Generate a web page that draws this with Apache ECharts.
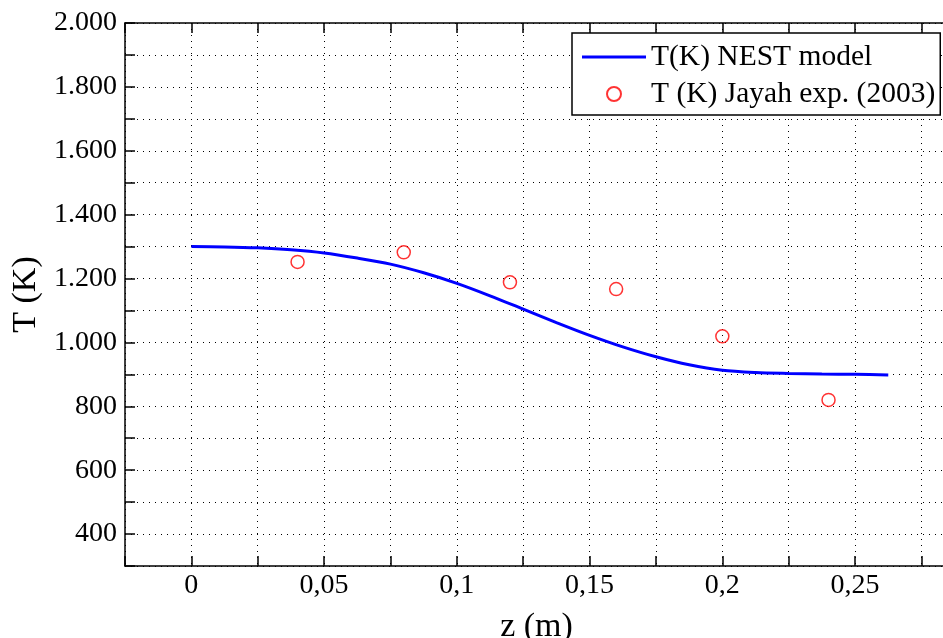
<!DOCTYPE html>
<html>
<head>
<meta charset="utf-8">
<script src="https://cdn.jsdelivr.net/npm/echarts@6/dist/echarts.min.js"></script>
<style>
html,body{margin:0;padding:0;background:#fff;}
#chart{width:943px;height:638px;}
</style>
</head>
<body>
<div id="chart"></div>
<script>
const zModel = [0, 0.0125, 0.025, 0.0375, 0.05, 0.0625, 0.075, 0.0875, 0.1, 0.1125, 0.125, 0.1375, 0.15, 0.1625, 0.175, 0.1875, 0.2, 0.2125, 0.225, 0.2375, 0.25, 0.2625];
const tModel = [1300, 1299, 1296, 1290, 1280, 1264, 1245, 1218, 1185, 1146, 1104, 1062, 1022, 986, 955, 930, 913, 906, 903, 901, 900, 898];
const zExp = [0.04, 0.08, 0.12, 0.16, 0.2, 0.24];
const tExp = [1252, 1282, 1188, 1167, 1019, 820];
const seriesNames = ['T(K) NEST model', 'T (K) Jayah exp. (2003)'];
const xTitle = 'z (m)';
const yTitle = 'T (K)';

const FONT = '"Liberation Serif", "Times New Roman", serif';
const chart = echarts.init(document.getElementById('chart'), null, {renderer: 'canvas'});

function fmtX(v) {
  const k = v / 0.05;
  if (Math.abs(k - Math.round(k)) > 1e-6) return '';
  return String(+v.toFixed(3)).replace('.', ',');
}
function fmtY(v) {
  if (Math.round(v) % 200 !== 0) return '';
  const s = String(Math.round(v));
  return s.length > 3 ? s.slice(0, s.length - 3) + '.' + s.slice(-3) : s;
}

const xMin = -0.025, xMax = 0.285, yMin = 300, yMax = 2000;
const gridLine = {show: true, lineStyle: {color: '#000', width: 1, type: [1, 5]}};
const lineIcon = 'path://M0,5.5 L64,5.5 L64,8.5 L0,8.5 Z M0,0 L0.01,0 L0.01,0.01 Z M64,14 L63.99,14 L63.99,13.99 Z';

chart.setOption({
  animation: false,
  backgroundColor: '#fff',
  grid: {left: 125, right: -5, top: 23, bottom: 72, containLabel: false, outerBoundsMode: 'none'},
  legend: {
    orient: 'vertical',
    left: 572, top: 33,
    padding: [9, 5, 6, 10],
    itemGap: 7,
    itemWidth: 64, itemHeight: 14,
    backgroundColor: '#fff',
    borderColor: '#000', borderWidth: 1.5,
    textStyle: {fontFamily: FONT, fontSize: 29.5, color: '#000'},
    data: [
      {name: seriesNames[0], icon: lineIcon},
      {name: seriesNames[1]}
    ]
  },
  xAxis: [{
    type: 'value', min: xMin, max: xMax, interval: 0.025,
    name: xTitle, nameLocation: 'middle', nameGap: 44,
    nameTextStyle: {fontFamily: FONT, fontSize: 34, color: '#000'},
    axisLine: {onZero: false, lineStyle: {color: '#000', width: 1.5}},
    axisTick: {inside: true, length: 10, lineStyle: {color: '#000', width: 1.5}},
    axisLabel: {formatter: fmtX, fontFamily: FONT, fontSize: 28, color: '#000', margin: 6, showMaxLabel: false},
    splitLine: gridLine
  }, {
    type: 'value', min: xMin, max: xMax, interval: 0.025, position: 'top',
    axisLine: {onZero: false, lineStyle: {color: '#000', width: 1.5}},
    axisTick: {inside: true, length: 10, lineStyle: {color: '#000', width: 1.5}},
    axisLabel: {show: false},
    splitLine: {show: false}
  }],
  yAxis: [{
    type: 'value', min: yMin, max: yMax, interval: 100,
    name: yTitle, nameLocation: 'middle', nameGap: 81, nameRotate: 90,
    nameTextStyle: {fontFamily: FONT, fontSize: 34, color: '#000'},
    axisLine: {onZero: false, lineStyle: {color: '#000', width: 1.5}},
    axisTick: {inside: true, length: 10, lineStyle: {color: '#000', width: 1.5}},
    axisLabel: {formatter: fmtY, fontFamily: FONT, fontSize: 28, color: '#000', margin: 8},
    splitLine: gridLine
  }],
  series: [{
    name: seriesNames[0],
    type: 'line',
    data: zModel.map((z, i) => [z, tModel[i]]),
    smooth: 0.3,
    symbol: 'none',
    showSymbol: false,
    lineStyle: {color: '#0000ff', width: 3},
    itemStyle: {color: '#0000ff'},
    z: 3
  }, {
    name: seriesNames[1],
    type: 'scatter',
    data: zExp.map((z, i) => [z, tExp[i]]),
    symbol: 'circle',
    symbolSize: 13,
    itemStyle: {color: 'rgba(0,0,0,0)', borderColor: '#ff0000', borderWidth: 1.5},
    z: 4
  }]
});
</script>
</body>
</html>
